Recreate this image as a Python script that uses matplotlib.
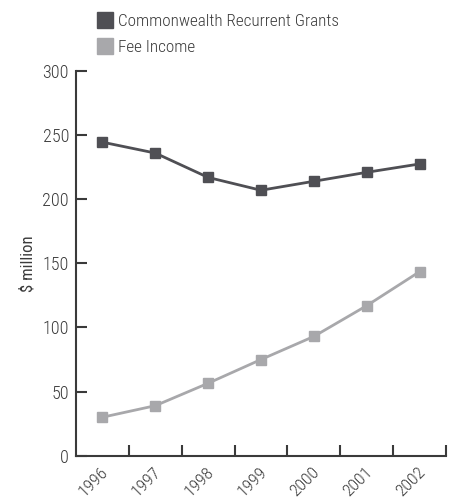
import matplotlib
matplotlib.use("Agg")
import matplotlib.pyplot as plt
import matplotlib.transforms as mtransforms
from matplotlib.lines import Line2D
import numpy as np

years = ["1996", "1997", "1998", "1999", "2000", "2001", "2002"]
grants = [244.5, 236.0, 217.0, 207.0, 214.0, 221.0, 227.5]
fees = [30.0, 39.0, 56.5, 75.0, 93.0, 117.0, 143.5]

dark = "#4f4f54"
light = "#a8a8ab"
ink = "#3a3a3a"

plt.rcParams["font.family"] = ["Roboto Condensed", "DejaVu Sans"]
plt.rcParams["font.weight"] = "light"

fig = plt.figure(figsize=(4.53, 5.0), dpi=100)
ax = fig.add_axes([76 / 453, 1 - 455.7 / 500, (446 - 76) / 453, (455.7 - 71) / 500])

x = np.arange(len(years)) + 0.5
ax.plot(x, grants, color=dark, lw=2, marker="s", ms=7, mec=dark, mfc=dark)
ax.plot(x, fees, color=light, lw=2, marker="s", ms=7, mec=light, mfc=light)

ax.set_xlim(0, len(years))
ax.set_ylim(0, 300)
ax.set_yticks([0, 50, 100, 150, 200, 250, 300])
ax.set_xticks(np.arange(1, len(years) + 1))
ax.set_xticklabels([])
ax.set_xticks(x, minor=True)
ax.set_xticklabels(years, minor=True, rotation=45, ha="right", va="top",
                   rotation_mode="anchor", fontsize=12.6, color=ink)
ax.tick_params(axis="x", which="minor", length=0, pad=6)
shift = mtransforms.ScaledTranslation(-2 / 100, 0, fig.dpi_scale_trans)
for lab in ax.get_xticklabels(minor=True):
    lab.set_transform(lab.get_transform() + shift)
ax.tick_params(axis="both", which="major", direction="in", length=8,
               width=1.5, color=ink, labelsize=13, labelcolor=ink)
ax.tick_params(axis="y", pad=5)

for s in ["top", "right"]:
    ax.spines[s].set_visible(False)
for s in ["left", "bottom"]:
    ax.spines[s].set_color(ink)
    ax.spines[s].set_linewidth(1.5)

ax.set_ylabel("$ million", fontsize=12, color=ink, labelpad=5)

handles = [
    Line2D([], [], ls="none", marker="s", ms=11.5, mfc=dark, mec=dark),
    Line2D([], [], ls="none", marker="s", ms=11.5, mfc=light, mec=light),
]
fig.legend(handles, ["Commonwealth Recurrent Grants", "Fee Income"],
           loc="upper left", bbox_to_anchor=(84 / 453, 1 - 2 / 500),
           frameon=False, fontsize=12.3, labelcolor=ink, handlelength=1.0,
           handletextpad=0.3, labelspacing=0.62, borderpad=0.2)

fig.savefig("out.png", dpi=100)
